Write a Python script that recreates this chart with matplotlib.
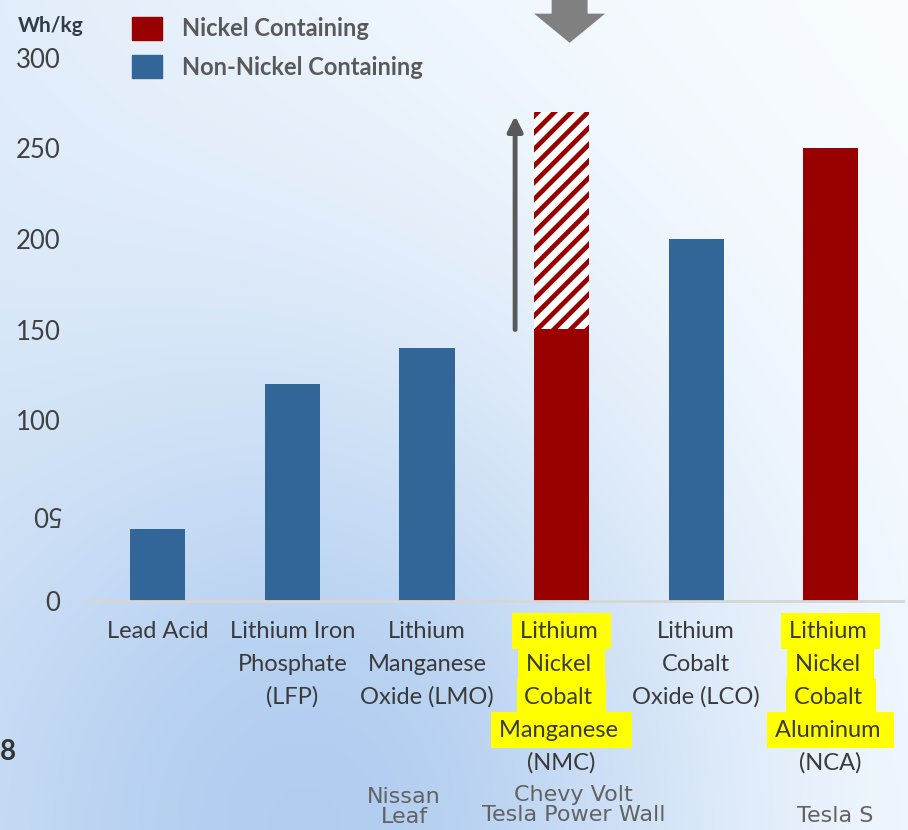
import numpy as np
import matplotlib
matplotlib.use("Agg")
import matplotlib.pyplot as plt
from matplotlib.patches import Patch, FancyArrow

# ---- data -------------------------------------------------------------
categories = [
    "Lead Acid",
    "Lithium Iron\nPhosphate\n(LFP)",
    "Lithium\nManganese\nOxide (LMO)",
    "Lithium \nNickel \nCobalt \nManganese \n(NMC)",
    "Lithium\nCobalt\nOxide (LCO)",
    "Lithium \nNickel \nCobalt \nAluminum \n(NCA)",
]
energy_density = [40, 120, 140, 150, 200, 250]          # Wh/kg
contains_nickel = [False, False, False, True, False, True]
nmc_potential = 270                                       # Wh/kg, projected NMC
vehicles = ["", "", "Nissan\nLeaf", "Chevy Volt\nTesla Power Wall", "", "Tesla S"]
y_ticks = [0, 50, 100, 150, 200, 250, 300]
legend_labels = ["Nickel Containing", "Non-Nickel Containing"]

# ---- style ------------------------------------------------------------
RED = "#990000"
BLUE = "#326699"
TEXT = "#3a3a3a"
W, H = 908, 830
plt.rcParams["hatch.linewidth"] = 3.4

fig = plt.figure(figsize=(W / 100, H / 100), dpi=100)

# soft blue backdrop
bg = fig.add_axes([0, 0, 1, 1], zorder=-10)
gx, gy = np.meshgrid(np.linspace(0, 1, 300), np.linspace(0, 1, 300))
haze = 0.85 * np.exp(-((gx - 0.38) / 0.45) ** 2 - ((gy - 1.0) / 0.6) ** 2) \
    + 0.28 * (1 - gx) ** 2
haze = np.clip(haze, 0, 1)[..., None]
white = np.array([0xf8, 0xfc, 0xff]) / 255
blue = np.array([0xae, 0xcb, 0xef]) / 255
bg.imshow(white * (1 - haze) + blue * haze, extent=[0, 1, 0, 1],
          aspect="auto", interpolation="bilinear", origin="upper")
bg.axis("off")

# main axes
ax = fig.add_axes([84 / W, 1 - 601 / H, (903 - 84) / W, (601 - 58) / H])
ax.patch.set_alpha(0)
x = np.arange(len(categories))
bar_w = 0.41
colors = [RED if n else BLUE for n in contains_nickel]
ax.bar(x, energy_density, width=bar_w, color=colors, zorder=2)

nmc = 3
ax.bar(nmc, nmc_potential - energy_density[nmc], bottom=energy_density[nmc],
       width=bar_w, facecolor="white", edgecolor=RED, hatch="//",
       linewidth=0, zorder=2)

ax.set_xlim(-0.548, 5.537)
ax.set_ylim(0, 300)
for s in ("top", "right", "left"):
    ax.spines[s].set_visible(False)
ax.spines["bottom"].set_color("#d6d6d6")
ax.spines["bottom"].set_linewidth(2)
ax.set_xticks([])

ax.set_yticks(y_ticks)
ax.set_yticklabels([str(v) for v in y_ticks], fontfamily="Lato")
ax.tick_params(axis="y", length=0, pad=17, labelsize=18.5, labelcolor="#404040")
ax.get_yticklabels()[1].set_rotation(180)

# category labels, nickel chemistries highlighted line by line
for i, (label, hl) in enumerate(zip(categories, contains_nickel)):
    lines = label.split("\n")
    for j, line in enumerate(lines):
        box = None
        if hl and j < len(lines) - 1:
            box = dict(boxstyle="square,pad=0.33", fc="#ffff00", ec="none")
        ax.annotate(line, xy=(i, 0), xytext=(0, -(30 + 33 * j)),
                    textcoords="offset pixels", ha="center", va="center",
                    fontsize=17, fontfamily="Lato", color=TEXT, bbox=box,
                    annotation_clip=False)

# vehicles using each chemistry
veh_dx = [0, 0, -0.17, 0.09, 0, 0.03]
veh_dy = [0, 0, -186, -184, 0, -205]
for i, name in enumerate(vehicles):
    if name:
        ax.annotate(name, xy=(i + veh_dx[i], 0), xytext=(0, veh_dy[i]),
                    textcoords="offset pixels", ha="center", va="top",
                    fontsize=16, fontfamily="DejaVu Sans", color="#626262",
                    linespacing=0.98, annotation_clip=False)

# growth arrow beside the NMC bar
ax.annotate("", xy=(nmc - 0.345, 268), xytext=(nmc - 0.345, energy_density[nmc]),
            arrowprops=dict(arrowstyle="-|>", color="#595959", lw=3.5,
                            mutation_scale=22, shrinkA=0, shrinkB=0))

# pointer above the NMC bar
ax.add_patch(FancyArrow(nmc + 0.06, 340, 0, -31.6, width=0.267,
                        head_width=0.527, head_length=16.1,
                        length_includes_head=True, color="#808080",
                        linewidth=0, clip_on=False))

# unit and legend
fig.text(18 / W, 1 - 26 / H, "Wh/kg", ha="left", va="center", fontsize=15,
         fontweight="bold", fontfamily="Lato", color="#2f3b46")
handles = [Patch(color=RED, label=legend_labels[0]),
           Patch(color=BLUE, label=legend_labels[1])]
fig.legend(handles=handles, loc="upper left", bbox_to_anchor=(132 / W, 1 - 17 / H),
           frameon=False, prop=dict(family="Lato", weight="bold", size=17),
           labelcolor="#595959", handlelength=1.27, handleheight=1.1,
           handletextpad=0.85, labelspacing=0.63, borderaxespad=0, borderpad=0)

fig.text(0, 1 - 752 / H, "8", ha="left", va="center", fontsize=20,
         fontweight="bold", fontfamily="Lato", color="#333333")

fig.savefig("out.png", dpi=100)
